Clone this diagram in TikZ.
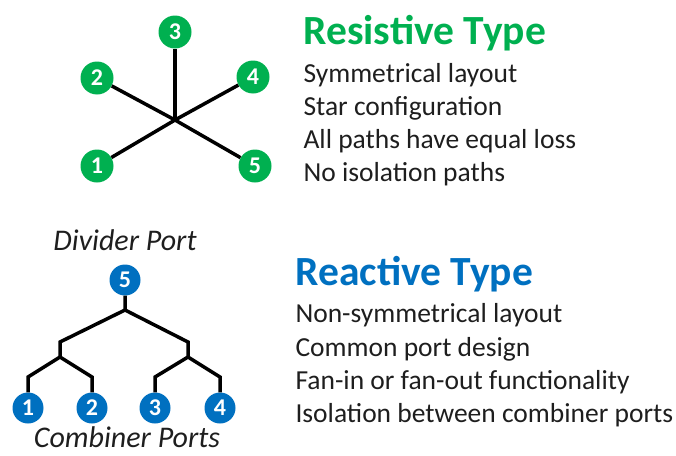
\documentclass[tikz,border=0pt]{standalone}
\usepackage{fontspec}
\setmainfont{Carlito}
\definecolor{resgreen}{RGB}{0,176,80}
\definecolor{reablue}{RGB}{0,112,192}
\definecolor{bodytext}{RGB}{30,30,30}
\tikzset{
  port/.style={circle, inner sep=0pt, minimum size=33pt, text=white,
    font=\fontsize{24}{24}\selectfont\bfseries},
  gport/.style={port, fill=resgreen},
  bport/.style={port, fill=reablue, minimum size=31pt},
  wire/.style={line width=3.5pt, black},
  heading/.style={anchor=base west, font=\fontsize{41.5}{41.5}\selectfont\bfseries},
  item/.style={anchor=base west, text=bodytext, font=\fontsize{27.5}{27.5}\selectfont},
  caption/.style={anchor=base, text=bodytext, font=\fontsize{30}{30}\selectfont\itshape}
}
\begin{document}
\begin{tikzpicture}[x=1pt, y=-1pt]
  \useasboundingbox (0,0) rectangle (676,455);
  % Resistive star
  \coordinate (hub) at (175,120);
  \node[gport] (g3) at (175,32) {3};
  \node[gport] (g2) at (97,78) {2};
  \node[gport] (g4) at (253,77) {4};
  \node[gport] (g1) at (97,166) {1};
  \node[gport] (g5) at (255,166) {5};
  \draw[wire] (hub) -- (g3);
  \draw[wire] (g2) -- (hub) -- (g5);
  \draw[wire] (g1) -- (hub) -- (g4);
  \node[heading, text=resgreen] (restitle) at (300,44) {Resistive Type};
  \node[item] (res1) at (300,82) {Symmetrical layout};
  \node[item] (res2) at (300,115) {Star configuration};
  \node[item] (res3) at (300,148) {All paths have equal loss};
  \node[item] (res4) at (300,181) {No isolation paths};
  % Reactive tree
  \node[caption] (divider) at (125,250) {Divider Port};
  \node[bport] (b5) at (125,280) {5};
  \node[bport] (b1) at (28,408) {1};
  \node[bport] (b2) at (92,408) {2};
  \node[bport] (b3) at (155,408) {3};
  \node[bport] (b4) at (220,408) {4};
  \coordinate (top) at (125,310);
  \coordinate (lj) at (60,342);  \coordinate (ljb) at (60,357);
  \coordinate (rj) at (188,342); \coordinate (rjb) at (188,357);
  \coordinate (l1) at (28,377);  \coordinate (l2) at (92,377);
  \coordinate (r3) at (155,377); \coordinate (r4) at (220,377);
  \draw[wire] (b5) -- (top) -- (lj) -- (ljb);
  \draw[wire] (top) -- (rj) -- (rjb);
  \draw[wire] (b1) -- (l1) -- (ljb) -- (l2) -- (b2);
  \draw[wire] (b3) -- (r3) -- (rjb) -- (r4) -- (b4);
  \node[caption] (combiner) at (127,447) {Combiner Ports};
  \node[heading, text=reablue] (reatitle) at (292,285) {Reactive Type};
  \node[item] (rea1) at (292,322) {Non-symmetrical layout};
  \node[item] (rea2) at (292,356) {Common port design};
  \node[item] (rea3) at (292,389) {Fan-in or fan-out functionality};
  \node[item] (rea4) at (292,422) {Isolation between combiner ports};
\end{tikzpicture}
\end{document}
